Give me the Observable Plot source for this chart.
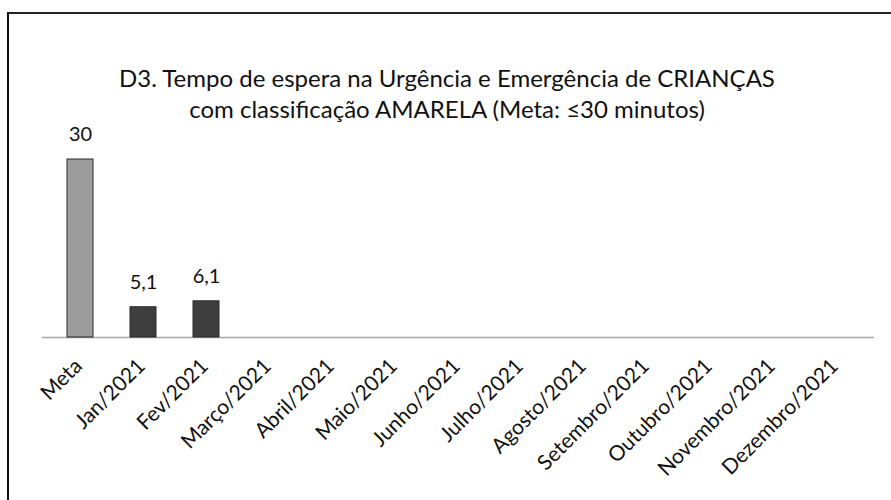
<!DOCTYPE html>
<html>
<head>
<meta charset="utf-8">
<script src="https://cdn.jsdelivr.net/npm/d3@7"></script>
<script src="https://cdn.jsdelivr.net/npm/@observablehq/plot@0.6"></script>
<style>
  html, body { margin: 0; padding: 0; background: #fff; }
  #wrap { position: relative; width: 891px; height: 500px; overflow: hidden; background: #fff; font-family: Lato, "Open Sans", sans-serif; }
  #frame { position: absolute; left: 7px; top: 12px; width: 900px; height: 500px; border-left: 2px solid #111; border-top: 2px solid #222; box-sizing: border-box; }
  #title { position: absolute; left: 0; width: 894px; top: 62px; text-align: center; font-size: 24px; line-height: 31px; color: #111; }
  #chart { position: absolute; left: 0; top: 0; }
</style>
</head>
<body>
<div id="wrap">
  <div id="frame"></div>
  <div id="title">D3. Tempo de espera na Urgência e Emergência de CRIANÇAS<br>com classificação AMARELA (Meta: ≤30 minutos)</div>
  <div id="chart"></div>
</div>
<script>
const categories = ["Meta","Jan/2021","Fev/2021","Março/2021","Abril/2021","Maio/2021","Junho/2021","Julho/2021","Agosto/2021","Setembro/2021","Outubro/2021","Novembro/2021","Dezembro/2021"];
const values = [30, 5.1, 6.1, null, null, null, null, null, null, null, null, null, null];
const valueLabels = ["30", "5,1", "6,1"];
const kinds = ["meta","mes","mes","mes","mes","mes","mes","mes","mes","mes","mes","mes","mes"];

const data = categories.map((c, i) => ({cat: c, value: values[i], kind: kinds[i], label: valueLabels[i] ?? null}));
const bars = data.filter(d => d.value != null);

const chart = Plot.plot({
  width: 891,
  height: 500,
  marginTop: 159,
  marginBottom: 163,
  marginLeft: 42,
  marginRight: 17,
  style: {background: "transparent", fontFamily: "Lato, 'Open Sans', sans-serif", color: "#111"},
  x: {domain: categories, paddingInner: 0.59, paddingOuter: 0.313, label: null},
  y: {domain: [0, 30], axis: null},
  color: {domain: ["meta","mes"], range: ["#9c9c9c", "#3e3e3e"]},
  marks: [
    Plot.ruleY([0], {stroke: "#a8a8a8", strokeWidth: 1.5}),
    Plot.barY(bars, {x: "cat", y: "value", fill: "kind", stroke: "#2a2a2a", strokeWidth: 1}),
    Plot.text(bars, {x: "cat", y: "value", text: "label", dy: -25, fontSize: 20, fill: "#111"}),
    Plot.axisX({tickSize: 0, tickPadding: 25, dx: -2, tickRotate: -45, fontSize: 21, fill: "#111"})
  ]
});
document.getElementById("chart").appendChild(chart);
</script>
</body>
</html>
